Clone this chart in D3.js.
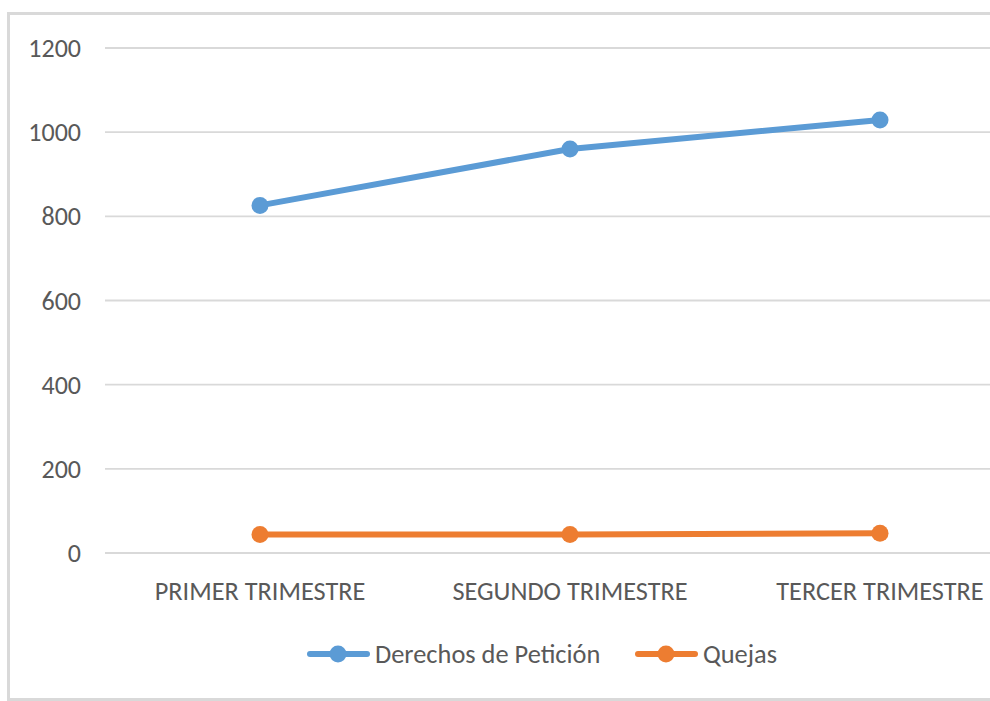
<!DOCTYPE html>
<html>
<head>
<meta charset="utf-8">
<script src="https://cdn.jsdelivr.net/npm/d3@7"></script>
<style>
  body { margin: 0; background: #fff; }
  svg { display: block; }
  .tick-label, .cat-label, .legend-label {
    font-family: Calibri, Carlito, sans-serif;
    fill: #595959;
  }
</style>
</head>
<body>
<div id="chart"></div>
<script>
// chart data
const categories = ['PRIMER TRIMESTRE', 'SEGUNDO TRIMESTRE', 'TERCER TRIMESTRE'];
const derechosPeticion = [826, 960, 1029];
const quejas = [44, 44, 47];
const yTicks = [0, 200, 400, 600, 800, 1000, 1200];
const seriesNames = ['Derechos de Petición', 'Quejas'];
const seriesColors = ['#5B9BD5', '#ED7D31'];

const width = 990, height = 701;
const margin = {top: 48, left: 105, right: 1035, bottom: 553};

const svg = d3.select('#chart').append('svg')
    .attr('width', width)
    .attr('height', height);

// chart border (right side runs past the picture)
svg.append('rect')
    .attr('x', 8.5)
    .attr('y', 13.5)
    .attr('width', 1100)
    .attr('height', 686)
    .attr('fill', '#fff')
    .attr('stroke', '#d9d9d9')
    .attr('stroke-width', 3);

const x = d3.scalePoint()
    .domain(categories)
    .range([margin.left, margin.right])
    .padding(0.5);

const y = d3.scaleLinear()
    .domain([0, 1200])
    .range([margin.bottom, margin.top]);

// gridlines
svg.append('g')
  .selectAll('line')
  .data(yTicks)
  .join('line')
    .attr('x1', margin.left)
    .attr('x2', margin.right)
    .attr('y1', d => y(d))
    .attr('y2', d => y(d))
    .attr('stroke', '#d9d9d9')
    .attr('stroke-width', 1.8);

// y tick labels
svg.append('g')
  .selectAll('text')
  .data(yTicks)
  .join('text')
    .attr('class', 'tick-label')
    .attr('x', 81)
    .attr('y', d => y(d))
    .attr('dy', '0.35em')
    .attr('text-anchor', 'end')
    .style('font-size', '26px')
    .text(d => d);

// category labels
svg.append('g')
  .selectAll('text')
  .data(categories)
  .join('text')
    .attr('class', 'cat-label')
    .attr('x', d => x(d))
    .attr('y', 600)
    .attr('text-anchor', 'middle')
    .style('font-size', '26.3px')
    .text(d => d);

const line = d3.line()
    .x((d, i) => x(categories[i]))
    .y(d => y(d));

const allSeries = [derechosPeticion, quejas];

allSeries.forEach((values, s) => {
  svg.append('path')
      .datum(values)
      .attr('d', line)
      .attr('fill', 'none')
      .attr('stroke', seriesColors[s])
      .attr('stroke-width', 6)
      .attr('stroke-linejoin', 'round');

  svg.append('g')
    .selectAll('circle')
    .data(values)
    .join('circle')
      .attr('cx', (d, i) => x(categories[i]))
      .attr('cy', d => y(d))
      .attr('r', 8.5)
      .attr('fill', seriesColors[s]);
});

// legend
const legendX = [308, 636];
const legendY = 654;
const legend = svg.append('g')
  .selectAll('g')
  .data(seriesNames)
  .join('g')
    .attr('transform', (d, i) => `translate(${legendX[i]},${legendY})`);

legend.append('line')
    .attr('x1', 2)
    .attr('x2', 59)
    .attr('stroke', (d, i) => seriesColors[i])
    .attr('stroke-width', 6)
    .attr('stroke-linecap', 'round');

legend.append('circle')
    .attr('cx', 30)
    .attr('r', 8.5)
    .attr('fill', (d, i) => seriesColors[i]);

legend.append('text')
    .attr('class', 'legend-label')
    .attr('x', 67)
    .attr('dy', '0.35em')
    .style('font-size', '26.4px')
    .text(d => d);
</script>
</body>
</html>
